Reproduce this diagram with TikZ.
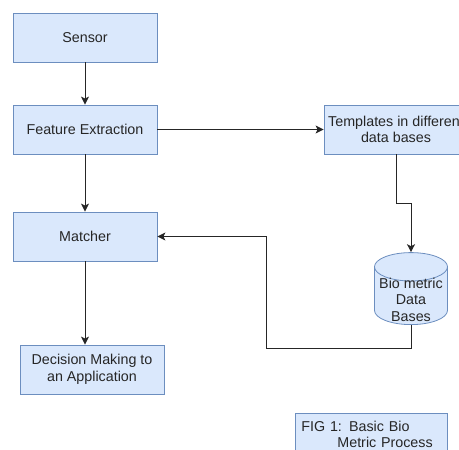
\documentclass[tikz,border=0pt]{standalone}
\usepackage{fontspec}
\setmainfont{Liberation Sans}
\usepackage{tikz}
\usetikzlibrary{positioning, arrows.meta, shapes.geometric}
\definecolor{boxFill}{HTML}{DAE8FC}
\definecolor{boxLine}{HTML}{6C8EBF}
\tikzstyle{procBox}=[draw=boxLine, fill=boxFill, line width=0.8pt, minimum width=144pt, minimum height=49pt, align=center, inner sep=2pt, font=\fontsize{14.3}{16.5}\selectfont, text=black!85]
\tikzstyle{dbNode}=[procBox, cylinder, shape border rotate=90, aspect=0.42, minimum width=73pt, minimum height=72pt]
\tikzstyle{dbText}=[align=center, inner sep=0pt, font=\fontsize{14.3}{16.5}\selectfont, text=black!85]
\tikzstyle{flowArrow}=[-{Stealth[length=8pt, width=8pt, inset=2pt]}, line width=1pt, black!85]

\begin{document}
\begin{tikzpicture}[x=1pt, y=-1pt]
    \useasboundingbox (0,0) rectangle (459,450);

    \node[procBox] (sensor) at (85,37.5) {Sensor};
    \node[procBox] (extract) at (85,129.5) {Feature Extraction};
    \node[procBox] (matcher) at (85,236.5) {Matcher};
    \node[procBox] (decision) at (92,369.5) {Decision Making to\\an Application};
    \node[procBox] (templates) at (396,129.5) {Templates in different\\data bases};
    \node[dbNode, anchor=bottom] (bioDb) at (411,325) {\phantom{Bio metric}};
    \node[dbText] (bioDbText) at (411,299.5) {Bio metric\\Data\\Bases};
    \node[procBox, anchor=north west, minimum width=152pt, minimum height=42pt, text width=140pt, inner xsep=6pt, align=left] (figLabel) at (295,413) {FIG 1: Basic Bio\\\hspace*{36pt}Metric Process};

    \coordinate (tplBend) at (396,203);
    \coordinate (retCorner) at (266,348);

    \draw[flowArrow] (sensor) -- (extract);
    \draw[flowArrow] (extract) -- (matcher);
    \draw[flowArrow] (matcher.south) -- (matcher.south |- decision.north);
    \draw[flowArrow] (extract) -- (templates);
    \draw[flowArrow] (templates.south) -- (tplBend) -| (bioDb.top);
    \draw[flowArrow] (bioDb.bottom) |- (retCorner) |- (matcher.east);

\end{tikzpicture}
\end{document}
